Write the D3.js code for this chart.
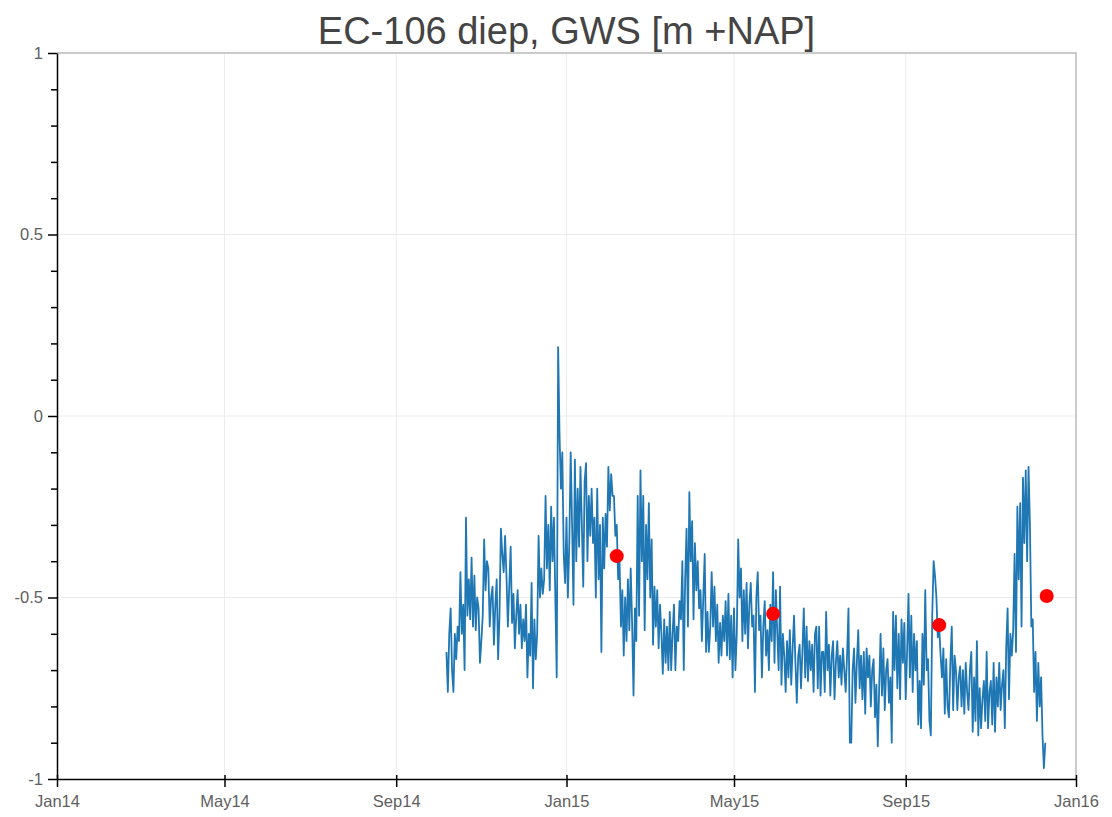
<!DOCTYPE html>
<html>
<head>
<meta charset="utf-8">
<script src="https://cdn.jsdelivr.net/npm/d3@7"></script>
<style>
  body { margin: 0; background: #fff; }
  text { font-family: "Liberation Sans", Arial, sans-serif; }
  .grid line { stroke: #ececec; stroke-width: 1; }
  .axis path, .axis line { stroke: #000; stroke-width: 1.5; }
</style>
</head>
<body>
<svg width="1112" height="817"></svg>
<script>
// title + axis setup
const chartTitle = "EC-106 diep, GWS [m +NAP]";
const yTicks = [-1, -0.5, 0, 0.5, 1];
const yMinorTicks = [-0.9, -0.8, -0.7, -0.6, -0.4, -0.3, -0.2, -0.1, 0.1, 0.2, 0.3, 0.4, 0.6, 0.7, 0.8, 0.9];
const xTicks = ["2014-01-01", "2014-05-01", "2014-09-01", "2015-01-01", "2015-05-01", "2015-09-01", "2016-01-01"];

// logger series, one value per day starting at seriesStart
const seriesStart = "2014-10-07";
const gws = [
  -0.65, -0.76, -0.60, -0.53, -0.70, -0.76, -0.60, -0.67, -0.58, -0.62,
  -0.43, -0.60, -0.52, -0.70, -0.28, -0.55, -0.45, -0.56, -0.39, -0.58,
  -0.44, -0.59, -0.50, -0.53, -0.68, -0.62, -0.55, -0.34, -0.48, -0.40,
  -0.42, -0.58, -0.50, -0.47, -0.63, -0.52, -0.45, -0.67, -0.55, -0.31,
  -0.38, -0.43, -0.33, -0.44, -0.58, -0.47, -0.36, -0.57, -0.49, -0.64,
  -0.55, -0.48, -0.60, -0.52, -0.64, -0.56, -0.62, -0.52, -0.72, -0.60,
  -0.66, -0.46, -0.75, -0.56, -0.67, -0.60, -0.33, -0.50, -0.42, -0.49,
  -0.45, -0.22, -0.42, -0.30, -0.48, -0.25, -0.40, -0.28, -0.50, -0.72,
   0.19, -0.05, -0.20, -0.10, -0.38, -0.46, -0.28, -0.50, -0.35, -0.10,
  -0.30, -0.52, -0.12, -0.40, -0.20, -0.36, -0.14, -0.30, -0.47, -0.18,
  -0.13, -0.40, -0.22, -0.33, -0.20, -0.35, -0.28, -0.50, -0.20, -0.45,
  -0.30, -0.65, -0.28, -0.42, -0.27, -0.36, -0.14, -0.26, -0.16, -0.22,
  -0.22, -0.33, -0.30, -0.45, -0.40, -0.58, -0.48, -0.66, -0.50, -0.62,
  -0.45, -0.59, -0.42, -0.57, -0.77, -0.53, -0.62, -0.22, -0.55, -0.15,
  -0.40, -0.22, -0.59, -0.30, -0.45, -0.24, -0.50, -0.34, -0.63, -0.47,
  -0.58, -0.48, -0.64, -0.52, -0.60, -0.71, -0.56, -0.68, -0.58, -0.70,
  -0.54, -0.70, -0.60, -0.52, -0.70, -0.58, -0.62, -0.51, -0.56, -0.40,
  -0.70, -0.45, -0.31, -0.58, -0.21, -0.40, -0.29, -0.56, -0.35, -0.48,
  -0.40, -0.53, -0.48, -0.62, -0.50, -0.38, -0.65, -0.54, -0.65, -0.58,
  -0.43, -0.58, -0.47, -0.62, -0.52, -0.68, -0.57, -0.66, -0.55, -0.62,
  -0.51, -0.66, -0.49, -0.67, -0.55, -0.72, -0.53, -0.70, -0.60, -0.34,
  -0.50, -0.42, -0.62, -0.48, -0.60, -0.46, -0.64, -0.52, -0.46, -0.58,
  -0.55, -0.76, -0.50, -0.43, -0.59, -0.55, -0.72, -0.58, -0.51, -0.66,
  -0.59, -0.70, -0.52, -0.62, -0.43, -0.68, -0.48, -0.60, -0.70, -0.47,
  -0.74, -0.60, -0.66, -0.76, -0.62, -0.72, -0.59, -0.74, -0.64, -0.55,
  -0.68, -0.79, -0.66, -0.63, -0.75, -0.65, -0.53, -0.72, -0.58, -0.73,
  -0.62, -0.70, -0.63, -0.76, -0.60, -0.58, -0.75, -0.58, -0.77, -0.65,
  -0.65, -0.76, -0.54, -0.70, -0.63, -0.77, -0.66, -0.62, -0.78, -0.68,
  -0.62, -0.72, -0.66, -0.74, -0.64, -0.70, -0.76, -0.66, -0.53, -0.90,
  -0.90, -0.70, -0.64, -0.79, -0.68, -0.59, -0.75, -0.66, -0.78, -0.65,
  -0.82, -0.64, -0.72, -0.66, -0.80, -0.70, -0.67, -0.83, -0.74, -0.91,
  -0.75, -0.60, -0.77, -0.64, -0.81, -0.70, -0.67, -0.79, -0.72, -0.90,
  -0.54, -0.70, -0.55, -0.75, -0.60, -0.78, -0.56, -0.68, -0.57, -0.78,
  -0.65, -0.49, -0.72, -0.55, -0.76, -0.60, -0.70, -0.62, -0.85, -0.73,
  -0.86, -0.60, -0.74, -0.48, -0.70, -0.67, -0.84, -0.88, -0.55, -0.40,
  -0.44, -0.50, -0.61, -0.58, -0.66, -0.72, -0.64, -0.82, -0.67, -0.80,
  -0.83, -0.68, -0.58, -0.81, -0.66, -0.70, -0.81, -0.72, -0.69, -0.80,
  -0.70, -0.82, -0.68, -0.76, -0.81, -0.70, -0.65, -0.87, -0.72, -0.84,
  -0.62, -0.88, -0.75, -0.86, -0.78, -0.73, -0.84, -0.65, -0.86, -0.76,
  -0.73, -0.85, -0.68, -0.87, -0.72, -0.80, -0.68, -0.81, -0.74, -0.70,
  -0.86, -0.64, -0.53, -0.78, -0.60, -0.66, -0.59, -0.38, -0.65, -0.25,
  -0.45, -0.24, -0.58, -0.17, -0.35, -0.15, -0.40, -0.14, -0.30, -0.58,
  -0.56, -0.76, -0.65, -0.84, -0.68, -0.80, -0.72, -0.88, -0.97, -0.90
];

// hand measurements (red dots)
const handDates = ["2015-02-06", "2015-05-29", "2015-09-25", "2015-12-11"];
const handValues = [-0.386, -0.545, -0.576, -0.496];

const svg = d3.select("svg");
const width = +svg.attr("width");
const height = +svg.attr("height");
const margin = {top: 53, right: 36, bottom: 38, left: 57};

const parse = d3.utcParse("%Y-%m-%d");
const start = parse(seriesStart);
const series = gws.map((v, i) => ({date: d3.utcDay.offset(start, i), value: v}));
const hand = handDates.map((d, i) => ({date: parse(d), value: handValues[i]}));

const x = d3.scaleUtc()
  .domain([parse("2014-01-01"), parse("2016-01-01")])
  .range([margin.left, width - margin.right]);

const y = d3.scaleLinear()
  .domain([-1, 1])
  .range([height - margin.bottom, margin.top]);

// grid
svg.append("g")
  .attr("class", "grid")
  .selectAll("line")
  .data(xTicks.slice(1, -1))
  .join("line")
  .attr("x1", d => x(parse(d)))
  .attr("x2", d => x(parse(d)))
  .attr("y1", margin.top)
  .attr("y2", height - margin.bottom);

svg.append("g")
  .attr("class", "grid")
  .selectAll("line")
  .data(yTicks.slice(1, -1))
  .join("line")
  .attr("x1", margin.left)
  .attr("x2", width - margin.right)
  .attr("y1", d => y(d))
  .attr("y2", d => y(d));

// frame top + right
svg.append("path")
  .attr("d", `M${margin.left},${margin.top}H${width - margin.right}V${height - margin.bottom}`)
  .attr("fill", "none")
  .attr("stroke", "#bbb")
  .attr("stroke-width", 1.5);

// line
const line = d3.line()
  .x(d => x(d.date))
  .y(d => y(d.value));

svg.append("path")
  .datum(series)
  .attr("d", line)
  .attr("fill", "none")
  .attr("stroke", "#1f77b4")
  .attr("stroke-width", 1.8)
  .attr("stroke-linejoin", "round");

svg.append("g")
  .selectAll("circle")
  .data(hand)
  .join("circle")
  .attr("cx", d => x(d.date))
  .attr("cy", d => y(d.value))
  .attr("r", 7)
  .attr("fill", "red");

// axes
svg.append("g")
  .attr("class", "axis")
  .attr("transform", `translate(${margin.left},0)`)
  .call(d3.axisLeft(y).tickValues(yMinorTicks).tickSize(6).tickSizeOuter(0).tickFormat(""))
  .call(g => g.select(".domain").remove());

const yAxis = svg.append("g")
  .attr("class", "axis")
  .attr("transform", `translate(${margin.left},0)`)
  .call(d3.axisLeft(y).tickValues(yTicks).tickSize(9).tickSizeOuter(0).tickPadding(5).tickFormat(d => String(d)));

const xAxis = svg.append("g")
  .attr("class", "axis")
  .attr("transform", `translate(0,${height - margin.bottom})`)
  .call(d3.axisBottom(x).tickValues(xTicks.map(parse)).tickSize(8).tickSizeOuter(0).tickPadding(8).tickFormat(d3.utcFormat("%b%y")));
xAxis.selectAll(".tick line").attr("y1", -4);

[xAxis, yAxis].forEach(g => g.selectAll("text")
  .attr("font-size", 16.5)
  .attr("fill", "#606060"));

svg.append("text")
  .attr("x", (margin.left + width - margin.right) / 2)
  .attr("y", 44)
  .attr("text-anchor", "middle")
  .attr("fill", "#444")
  .attr("font-size", 38)
  .text(chartTitle);
</script>
</body>
</html>
